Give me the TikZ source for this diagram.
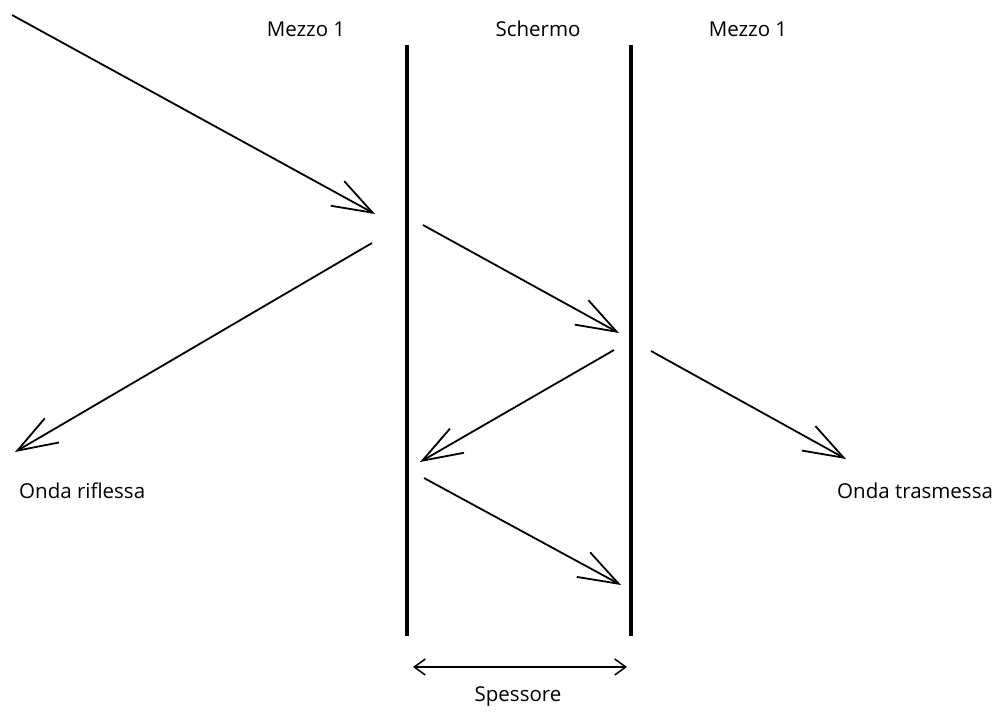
\documentclass[tikz,border=0pt]{standalone}
\usepackage{fontspec}
\setmainfont{Open Sans}
\usetikzlibrary{arrows.meta}
\begin{document}
\begin{tikzpicture}[x=1pt,y=-1pt,
  wave/.style={line width=1.8pt,-{Straight Barb[length=40pt,width=28pt,line width=1.8pt]}},
  wall/.style={line width=4.5pt},
  lbl/.style={font=\fontsize{20.5}{24}\selectfont,inner sep=0pt},
  thick2/.style={line width=1.5pt,{Straight Barb[length=11pt,width=16pt]}-{Straight Barb[length=11pt,width=16pt]}}]
  \useasboundingbox (0,0) rectangle (1003,713);
  % screen walls
  \coordinate (w1t) at (407,45);  \coordinate (w1b) at (407,636);
  \coordinate (w2t) at (631,45);  \coordinate (w2b) at (631,636);
  \draw[wall] (w1t) -- (w1b);
  \draw[wall] (w2t) -- (w2b);
  % wave paths
  \coordinate (i0) at (12,15);    \coordinate (i1) at (375,214);
  \coordinate (r0) at (372,243);  \coordinate (r1) at (15,452);
  \coordinate (a0) at (423,225);  \coordinate (a1) at (619,333);
  \coordinate (b0) at (614,350);  \coordinate (b1) at (420,462);
  \coordinate (c0) at (424,478);  \coordinate (c1) at (621,585);
  \coordinate (t0) at (651,351);  \coordinate (t1) at (846,459);
  \draw[wave] (i0) -- (i1);
  \draw[wave] (r0) -- (r1);
  \draw[wave] (a0) -- (a1);
  \draw[wave] (b0) -- (b1);
  \draw[wave] (c0) -- (c1);
  \draw[wave] (t0) -- (t1);
  % thickness marker
  \coordinate (s0) at (413,667); \coordinate (s1) at (627,667);
  \draw[thick2] (s0) -- (s1);
  % labels
  \node[lbl] (m1) at (306,29) {Mezzo 1};
  \node[lbl] (sc) at (538,29) {Schermo};
  \node[lbl] (m2) at (748,29) {Mezzo 1};
  \node[lbl,anchor=west] (or) at (19,491) {Onda riflessa};
  \node[lbl,anchor=west] (ot) at (837,491) {Onda trasmessa};
  \node[lbl] (sp) at (518,697) {Spessore};
\end{tikzpicture}
\end{document}
